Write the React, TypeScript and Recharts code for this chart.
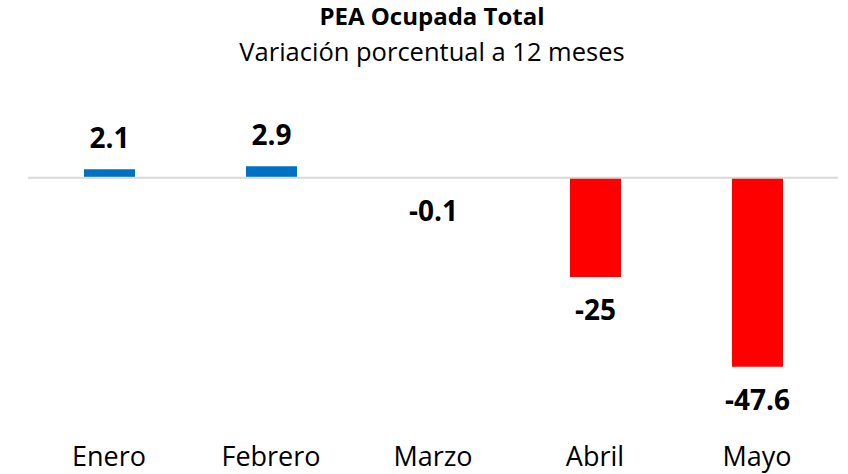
import React from "react";
import { BarChart, Bar, XAxis, YAxis, Cell, LabelList, ReferenceLine } from "recharts";

const months = ["Enero", "Febrero", "Marzo", "Abril", "Mayo"];
const values = [2.1, 2.9, -0.1, -25, -47.6];
const labels = ["2.1", "2.9", "-0.1", "-25", "-47.6"];

const title = "PEA Ocupada Total";
const subtitle = "Variación porcentual a 12 meses";

const data = months.map((m, i) => ({ month: m, value: values[i], label: labels[i] }));

const FONT = "'Open Sans', sans-serif";

const renderLabel = (props: any) => {
  const { x, y, width, height, index } = props;
  const v = values[index];
  const cx = Number(x) + Number(width) / 2;
  const y1 = Number(y);
  const y2 = Number(y) + Number(height);
  const top = Math.min(y1, y2);
  const bottom = Math.max(y1, y2);
  const baseline = v >= 0 ? top - 21 : bottom + 43;
  return (
    <text x={cx} y={baseline} textAnchor="middle" fontFamily={FONT} fontWeight="bold" fontSize={28} fill="#000">
      {labels[index]}
    </text>
  );
};

export default function App() {
  return (
    <div style={{ position: "absolute", left: 0, top: 0, width: 848, height: 474, background: "#fff" }}>
      <BarChart
        width={848}
        height={474}
        data={data}
        margin={{ top: 138, right: 10, bottom: 0, left: 28 }}
      >
        <YAxis hide domain={[-55, 10]} type="number" allowDataOverflow />
        <XAxis
          dataKey="month"
          axisLine={false}
          tickLine={false}
          tickSize={0}
          tickMargin={51}
          height={78}
          interval={0}
          tick={{ fontFamily: FONT, fontSize: 27, fill: "#000" }}
        />
        <ReferenceLine y={0} stroke="#d9d9d9" strokeWidth={2} ifOverflow="extendDomain" />
        <Bar dataKey="value" barSize={51} isAnimationActive={false}>
          {data.map((d, i) => (
            <Cell key={i} fill={d.value >= 0 ? "#0070C0" : "#FF0000"} />
          ))}
          <LabelList dataKey="label" content={renderLabel} />
        </Bar>
      </BarChart>
      <svg width={848} height={80} style={{ position: "absolute", left: 0, top: 0, pointerEvents: "none" }}>
        <text x={432} y={25} textAnchor="middle" fontFamily={FONT} fontWeight="bold" fontSize={24} fill="#000">
          {title}
        </text>
        <text x={432} y={61} textAnchor="middle" fontFamily={FONT} fontSize={25.5} fill="#000">
          {subtitle}
        </text>
      </svg>
    </div>
  );
}
